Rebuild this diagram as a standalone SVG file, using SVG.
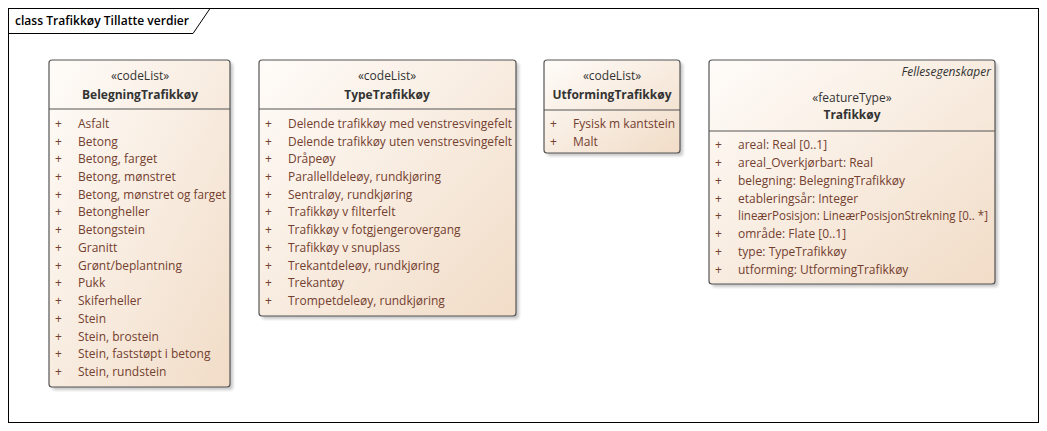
<svg xmlns="http://www.w3.org/2000/svg" width="1047" height="431" viewBox="0 0 1047 431">
<defs>
<linearGradient id="g" x1="0" y1="0" x2="1" y2="1">
<stop offset="0" stop-color="#FFFCF9"/>
<stop offset="1" stop-color="#F1DCC7"/>
</linearGradient>
<filter id="sh" x="-5%" y="-5%" width="115%" height="115%">
<feGaussianBlur stdDeviation="1.5"/>
</filter>
</defs>
<style>
.box{fill:url(#g);stroke:#555;stroke-width:1.2}
.shadow{fill:#9A9A9A;opacity:0.55;filter:url(#sh)}
.div{stroke:#555;stroke-width:1.2}
.st{font-family:"Open Sans","Noto Sans",sans-serif;font-size:12px;fill:#333;text-anchor:middle}
.nm{font-family:"Open Sans","Noto Sans",sans-serif;font-size:12px;font-weight:bold;fill:#333;text-anchor:middle}
.at{font-family:"Open Sans","Noto Sans",sans-serif;font-size:12px;fill:#73402F}
.it{font-family:"Open Sans","Noto Sans",sans-serif;font-size:12px;font-style:italic;fill:#333;text-anchor:end}
.ttl{font-family:"Open Sans","Noto Sans",sans-serif;font-size:12px;font-weight:600;fill:#000}
</style>
<rect x="0" y="0" width="1047" height="431" fill="#fff"/>
<g id="frame">
<rect x="8.5" y="8.5" width="1030" height="414" fill="none" stroke="#000" stroke-width="1"/>
<path d="M8.5 33.5 H193 L210 8.5" fill="none" stroke="#000" stroke-width="1"/>
<text class="ttl" x="15" y="25" textLength="174" lengthAdjust="spacingAndGlyphs">class Trafikkøy Tillatte verdier</text>
</g>
<g id="connectors"></g>
<g id="BelegningTrafikkoy">
<rect class="shadow" x="52" y="63" width="181" height="327" rx="3"/>
<rect class="box" x="49" y="60" width="181" height="327" rx="3"/>
<line class="div" x1="49" y1="109" x2="230" y2="109"/>
<text class="st" x="140" y="80">«codeList»</text>
<text class="nm" x="140" y="99">BelegningTrafikkøy</text>
<g class="at">
<text x="55" y="128">+</text><text x="78" y="128">Asfalt</text>
<text x="55" y="146">+</text><text x="78" y="146">Betong</text>
<text x="55" y="163">+</text><text x="78" y="163">Betong, farget</text>
<text x="55" y="181">+</text><text x="78" y="181">Betong, mønstret</text>
<text x="55" y="199">+</text><text x="78" y="199" textLength="148" lengthAdjust="spacingAndGlyphs">Betong, mønstret og farget</text>
<text x="55" y="216">+</text><text x="78" y="216">Betongheller</text>
<text x="55" y="234">+</text><text x="78" y="234">Betongstein</text>
<text x="55" y="252">+</text><text x="78" y="252">Granitt</text>
<text x="55" y="270">+</text><text x="78" y="270">Grønt/beplantning</text>
<text x="55" y="287">+</text><text x="78" y="287">Pukk</text>
<text x="55" y="305">+</text><text x="78" y="305">Skiferheller</text>
<text x="55" y="323">+</text><text x="78" y="323">Stein</text>
<text x="55" y="341">+</text><text x="78" y="341">Stein, brostein</text>
<text x="55" y="358">+</text><text x="78" y="358">Stein, faststøpt i betong</text>
<text x="55" y="376">+</text><text x="78" y="376">Stein, rundstein</text>
</g>
</g>
<g id="TypeTrafikkoy">
<rect class="shadow" x="262" y="63" width="257" height="256" rx="3"/>
<rect class="box" x="259" y="60" width="257" height="256" rx="3"/>
<line class="div" x1="259" y1="109" x2="516" y2="109"/>
<text class="st" x="387" y="80">«codeList»</text>
<text class="nm" x="387" y="99">TypeTrafikkøy</text>
<g class="at">
<text x="265" y="128">+</text><text x="288" y="128" textLength="224" lengthAdjust="spacingAndGlyphs">Delende trafikkøy med venstresvingefelt</text>
<text x="265" y="146">+</text><text x="288" y="146" textLength="224" lengthAdjust="spacingAndGlyphs">Delende trafikkøy uten venstresvingefelt</text>
<text x="265" y="163">+</text><text x="288" y="163">Dråpeøy</text>
<text x="265" y="181">+</text><text x="288" y="181">Parallelldeleøy, rundkjøring</text>
<text x="265" y="199">+</text><text x="288" y="199">Sentraløy, rundkjøring</text>
<text x="265" y="216">+</text><text x="288" y="216">Trafikkøy v filterfelt</text>
<text x="265" y="234">+</text><text x="288" y="234">Trafikkøy v fotgjengerovergang</text>
<text x="265" y="252">+</text><text x="288" y="252">Trafikkøy v snuplass</text>
<text x="265" y="270">+</text><text x="288" y="270">Trekantdeleøy, rundkjøring</text>
<text x="265" y="287">+</text><text x="288" y="287">Trekantøy</text>
<text x="265" y="305">+</text><text x="288" y="305">Trompetdeleøy, rundkjøring</text>
</g>
</g>
<g id="UtformingTrafikkoy">
<rect class="shadow" x="547" y="63" width="136" height="93" rx="3"/>
<rect class="box" x="544" y="60" width="136" height="93" rx="3"/>
<line class="div" x1="544" y1="110" x2="680" y2="110"/>
<text class="st" x="612" y="80">«codeList»</text>
<text class="nm" x="612" y="99">UtformingTrafikkøy</text>
<g class="at">
<text x="550" y="128">+</text><text x="573" y="128">Fysisk m kantstein</text>
<text x="550" y="146">+</text><text x="573" y="146">Malt</text>
</g>
</g>
<g id="Trafikkoy">
<rect class="shadow" x="712" y="63" width="286" height="224" rx="3"/>
<rect class="box" x="709" y="60" width="286" height="224" rx="3"/>
<line class="div" x1="709" y1="131" x2="995" y2="131"/>
<text class="it" x="991" y="76">Fellesegenskaper</text>
<text class="st" x="852" y="102">«featureType»</text>
<text class="nm" x="852" y="119">Trafikkøy</text>
<g class="at">
<text x="715" y="149">+</text><text x="738" y="149">areal: Real [0..1]</text>
<text x="715" y="167">+</text><text x="738" y="167">areal_Overkjørbart: Real</text>
<text x="715" y="185">+</text><text x="738" y="185">belegning: BelegningTrafikkøy</text>
<text x="715" y="203">+</text><text x="738" y="203">etableringsår: Integer</text>
<text x="715" y="220">+</text><text x="738" y="220" textLength="250" lengthAdjust="spacingAndGlyphs">lineærPosisjon: LineærPosisjonStrekning [0.. *]</text>
<text x="715" y="238">+</text><text x="738" y="238">område: Flate [0..1]</text>
<text x="715" y="256">+</text><text x="738" y="256">type: TypeTrafikkøy</text>
<text x="715" y="274">+</text><text x="738" y="274">utforming: UtformingTrafikkøy</text>
</g>
</g>
</svg>
